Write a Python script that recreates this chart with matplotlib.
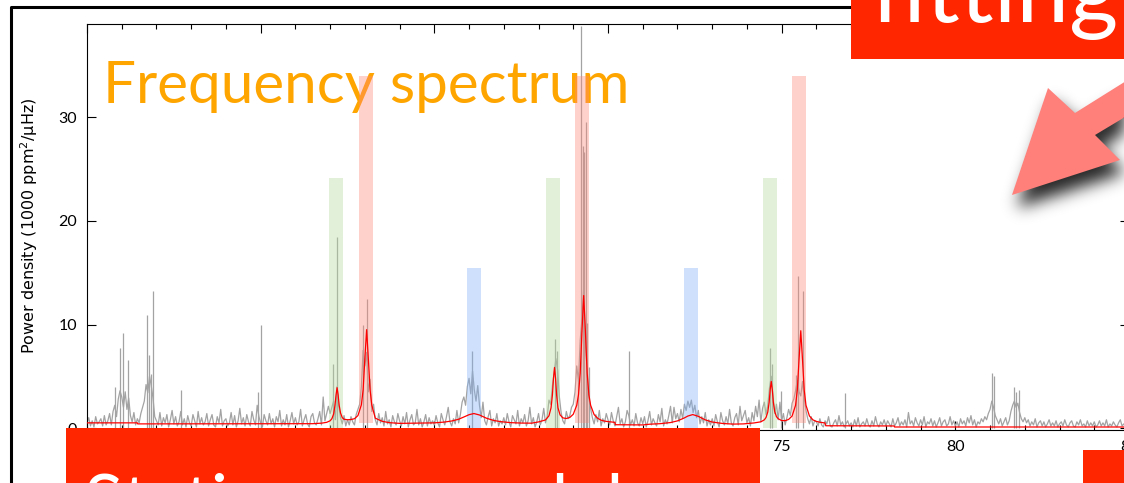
import numpy as np
import matplotlib
matplotlib.use("Agg")
import matplotlib.pyplot as plt
from matplotlib.ticker import MultipleLocator
from matplotlib.patches import Polygon, Rectangle
from matplotlib.lines import Line2D
from matplotlib.path import Path

plt.rcParams['font.family'] = ['Lato', 'DejaVu Sans']

# power spectrum, 0.05 uHz bins starting at 55 uHz (1000 ppm^2/uHz)
power = [
    0.5, 1.0, 0.2, 0.7, 0.1, 1.1, 0.4, 0.6, 0.9, 0.2, 1.2, 0.3, 0.7, 1.4, 0.3, 1.6, 2.2, 1.1, 2.8, 3.6,
    3.0, 2.0, 3.5, 1.8, 2.9, 1.2, 0.6, 1.5, 0.3, 0.9, 0.5, 1.4, 2.0, 2.6, 4.2, 3.4, 5.0, 4.1, 2.9, 1.1,
    0.7, 0.3, 1.5, 0.2, 1.0, 0.5, 1.3, 0.1, 0.8, 1.7, 0.4, 1.1, 0.2, 0.6, 1.6, 0.3, 0.9, 0.1, 1.2, 0.5,
    0.2, 1.3, 0.7, 0.1, 1.6, 0.4, 1.0, 0.3, 0.6, 1.4, 0.2, 0.8, 1.3, 0.3, 0.1, 1.1, 0.5, 1.8, 0.2, 0.7,
    0.9, 0.2, 0.5, 1.5, 0.3, 1.2, 0.1, 0.7, 1.9, 0.4, 1.0, 0.2, 1.3, 0.6, 0.2, 1.6, 0.8, 0.3, 2.2, 1.1,
    0.5, 0.1, 1.3, 0.7, 0.3, 1.4, 0.4, 0.9, 0.1, 1.1, 0.6, 1.7, 0.2, 0.8, 0.3, 1.3, 0.1, 0.7, 1.5, 0.4,
    1.0, 0.3, 0.6, 1.8, 0.2, 0.8, 1.3, 0.4, 0.1, 1.1, 1.4, 0.5, 0.3, 0.9, 1.6, 0.3, 3.0, 0.7, 1.4, 2.1,
    1.4, 2.0, 2.6, 0.8, 4.0, 2.1, 1.0, 0.4, 1.2, 0.2, 0.8, 0.3, 1.1, 0.6, 0.3, 1.3, 1.8, 2.3, 4.0, 7.5,
    6.0, 7.3, 3.5, 4.7, 1.6, 2.3, 0.8, 0.3, 1.4, 0.5, 1.0, 0.2, 1.6, 0.4, 0.8, 0.1, 1.2, 0.6, 0.3, 1.4,
    0.7, 0.2, 1.1, 0.4, 1.5, 0.1, 0.8, 1.3, 0.3, 0.5, 1.8, 0.3, 0.9, 0.1, 0.6, 1.3, 0.2, 1.0, 0.4, 0.7,
    0.3, 1.2, 0.5, 0.1, 1.4, 0.8, 0.3, 1.1, 2.0, 0.6, 0.2, 0.9, 0.4, 1.7, 0.5, 1.3, 2.5, 3.0, 2.2, 4.0,
    4.8, 3.3, 5.5, 3.7, 2.6, 4.1, 2.2, 1.0, 2.5, 0.7, 0.3, 1.1, 1.7, 0.2, 0.9, 0.5, 1.4, 0.2, 0.7, 0.4,
    1.0, 0.3, 1.4, 0.6, 0.1, 1.2, 0.8, 0.4, 1.7, 0.2, 0.9, 0.5, 1.3, 0.2, 0.7, 2.0, 0.4, 1.0, 0.1, 0.6,
    1.4, 0.3, 0.8, 1.9, 0.5, 1.1, 2.7, 2.3, 4.1, 5.3, 6.7, 5.6, 3.0, 1.5, 0.7, 0.4, 1.6, 0.9, 1.2, 2.0,
    2.3, 3.5, 6.0, 4.5, 8.5, 10.5, 13.5, 8.0, 5.7, 2.9, 1.9, 1.0, 0.4, 1.3, 0.6, 1.7, 0.2, 0.9, 0.5, 1.4,
    0.8, 0.3, 1.5, 0.7, 0.2, 1.1, 2.0, 0.4, 0.9, 0.1, 0.6, 1.7, 1.2, 0.3, 0.8, 0.2, 1.4, 0.5, 0.2, 1.0,
    0.4, 1.1, 0.1, 0.7, 1.6, 0.3, 0.9, 0.5, 0.2, 1.3, 0.6, 1.9, 0.2, 0.8, 0.4, 1.2, 2.1, 0.5, 2.0, 0.9,
    1.4, 0.6, 1.8, 0.9, 2.3, 1.7, 2.6, 2.0, 2.7, 1.5, 2.2, 1.0, 1.7, 0.4, 1.1, 0.5, 1.5, 0.2, 0.8, 0.3,
    0.9, 0.2, 1.3, 0.6, 0.1, 1.5, 0.7, 0.3, 1.1, 0.4, 1.8, 0.5, 0.2, 1.0, 1.4, 0.3, 2.1, 0.7, 1.2, 1.7,
    0.5, 1.0, 0.2, 1.5, 0.7, 2.1, 1.1, 2.7, 0.6, 1.9, 2.5, 1.3, 2.2, 3.9, 5.0, 3.1, 1.4, 2.3, 0.8, 2.5,
    0.7, 1.4, 0.3, 1.0, 1.8, 1.2, 2.4, 2.8, 3.6, 4.6, 3.5, 3.1, 4.5, 2.9, 1.7, 0.9, 0.4, 1.1, 0.2, 0.7,
    0.6, 0.2, 0.9, 0.3, 0.1, 0.7, 0.4, 1.1, 0.2, 0.1, 0.5, 0.8, 0.2, 1.2, 0.3, 0.6, 0.1, 0.4, 0.7, 0.2,
    0.5, 0.1, 0.8, 0.2, 1.0, 0.1, 0.4, 0.6, 0.2, 0.9, 0.3, 0.1, 0.7, 0.2, 1.1, 0.4, 0.1, 0.6, 0.3, 0.8,
    0.2, 0.7, 0.4, 0.1, 0.9, 0.2, 0.5, 1.0, 0.2, 0.6, 0.3, 0.8, 0.1, 1.5, 0.4, 0.7, 0.2, 1.0, 0.5, 0.2,
    0.8, 0.3, 1.1, 0.1, 0.6, 0.4, 0.9, 0.2, 0.7, 0.1, 0.5, 1.0, 0.2, 0.6, 0.8, 0.2, 0.4, 1.1, 0.3, 0.7,
    0.2, 0.6, 0.1, 0.9, 0.4, 0.7, 0.2, 1.0, 0.5, 1.2, 0.3, 0.8, 0.1, 0.6, 0.4, 0.9, 0.6, 1.1, 0.8, 1.4,
    1.8, 2.6, 2.0, 1.2, 0.8, 0.4, 0.9, 0.2, 0.6, 1.0, 0.3, 0.7, 1.6, 2.2, 2.6, 2.0, 2.4, 1.5, 0.9, 0.6,
    1.0, 0.5, 0.8, 0.2, 0.6, 0.3, 0.9, 0.1, 0.5, 0.7, 0.2, 0.6, 0.1, 0.4, 0.8, 0.2, 0.5, 0.2, 0.7, 0.1,
    0.4, 0.6, 0.2, 0.8, 0.3, 0.1, 0.5, 0.7, 0.2, 0.1, 0.6, 0.3, 0.8, 0.2, 0.4, 0.1, 0.7, 0.2, 0.5, 0.2,
    0.6, 0.1, 0.3, 0.7, 0.2, 0.5, 0.2, 0.8, 0.1, 0.4, 0.2, 0.6, 0.3, 0.1, 0.5, 0.8, 0.2, 0.4, 0.1, 0.6,
    0.3,
]
freq = 55 + 0.05 * np.arange(len(power))

# narrow spikes in the spectrum
spike_freq = [55.82, 55.96, 56.04, 56.17, 56.72, 56.78, 56.83, 56.90, 57.71, 59.92,
              60.02, 62.07, 62.20, 62.95, 63.05, 66.08, 68.46, 68.53, 69.13, 69.22,
              69.28, 69.31, 69.36, 69.39, 69.46, 70.60, 74.66, 74.71, 74.97, 75.42,
              75.47, 75.61, 76.83, 81.05, 81.11, 81.68, 81.75, 81.82]
spike_power = [4.0, 7.7, 9.2, 6.6, 10.9, 7.1, 5.2, 13.2, 3.7, 3.5,
               10.0, 6.2, 18.5, 10.0, 12.5, 7.4, 8.6, 7.4, 4.6, 38.8,
               27.2, 26.7, 29.6, 10.1, 5.9, 7.4, 7.7, 6.2, 3.6, 5.1,
               14.7, 13.2, 3.4, 5.3, 5.0, 4.0, 3.5, 3.7]

# fitted model (red)
fit_freq = [55.0, 56.45, 56.46, 61.5, 61.75, 61.9, 62.0, 62.05, 62.1, 62.14, 62.17, 62.2, 62.23, 62.26,
            62.3, 62.35, 62.4, 62.5, 62.6, 62.7, 62.8, 62.9, 62.95, 63.0, 63.05, 63.1, 63.15, 63.2,
            63.3, 63.4, 63.5, 63.7, 64.0, 65.0, 65.3, 65.5, 65.7, 65.9, 66.0, 66.14, 66.3, 66.5, 66.7,
            66.9, 67.2, 67.5, 67.8, 68.0, 68.2, 68.3, 68.36, 68.4, 68.43, 68.46, 68.49, 68.52, 68.56,
            68.62, 68.7, 68.8, 68.9, 69.0, 69.1, 69.15, 69.2, 69.25, 69.3, 69.35, 69.4, 69.45, 69.5,
            69.6, 69.7, 69.8, 69.9, 70.0, 70.2, 70.21, 71.0, 71.2, 71.5, 71.8, 72.0, 72.2, 72.3, 72.44,
            72.6, 72.8, 73.0, 73.3, 73.6, 73.9, 74.2, 74.4, 74.5, 74.55, 74.6, 74.64, 74.67, 74.7,
            74.73, 74.76, 74.8, 74.85, 74.9, 75.0, 75.1, 75.2, 75.3, 75.4, 75.45, 75.5, 75.55, 75.6,
            75.65, 75.7, 75.8, 75.9, 76.0, 76.1, 76.25, 76.27, 78.24, 78.25, 85.0]
fit_power = [0.5, 0.5, 0.4, 0.42, 0.47, 0.55, 0.7, 0.9, 1.35, 2.2, 3.2, 3.9, 3.2, 2.2,
             1.45, 1.0, 0.85, 0.8, 0.82, 0.9, 1.2, 2.25, 3.7, 6.7, 9.5, 6.7, 3.7, 2.2,
             0.95, 0.8, 0.65, 0.52, 0.45, 0.5, 0.58, 0.68, 0.85, 1.14, 1.29, 1.4, 1.26, 0.95, 0.74,
             0.62, 0.52, 0.48, 0.47, 0.59, 0.78, 1.18, 1.95, 3.2, 4.8, 5.85, 4.8, 3.2, 1.95,
             1.27, 0.98, 0.92, 1.02, 1.33, 2.2, 3.2, 5.3, 9.3, 12.8, 9.3, 5.3, 3.2, 2.2,
             1.3, 0.95, 0.76, 0.67, 0.62, 0.55, 0.32, 0.3, 0.37, 0.42, 0.53, 0.69, 0.98, 1.16, 1.3,
             1.13, 0.79, 0.58, 0.44, 0.38, 0.4, 0.49, 0.6, 0.79, 1.02, 1.55, 2.5, 3.73, 4.5,
             3.73, 2.5, 1.6, 1.1, 0.9, 0.72, 0.71, 0.83, 1.16, 2.2, 3.64, 6.6, 9.4, 6.6,
             3.64, 2.2, 1.16, 0.79, 0.64, 0.56, 0.49, 0.22, 0.2, 0.1, 0.1]

# mode identification bands
band_centers = [62.18, 63.02, 66.13, 68.41, 69.25, 72.39, 74.67, 75.51]
band_degree = [2, 0, 1, 2, 0, 1, 2, 0]
degree_top = {0: 34.0, 1: 15.5, 2: 24.2}
degree_bottom = {0: 0.5, 1: 0.0, 2: 0.0}
degree_color = {0: '#ff8878', 1: '#7fb0f5', 2: '#b4d79c'}

W, H = 1124, 483
fig = plt.figure(figsize=(W / 100, H / 100), dpi=100)
fig.patch.set_facecolor('white')


def fx(px):
    return px / W


def fy(py):
    return 1 - py / H


ax = fig.add_axes([fx(87), fy(430), 1042 / W, 406 / H])
ax.plot(freq, power, color='#a3a3a3', lw=0.9, zorder=2)
ax.vlines(spike_freq, 0, spike_power, color='#a3a3a3', lw=0.9, zorder=2)

tops = np.array([degree_top[d] for d in band_degree])
bottoms = np.array([degree_bottom[d] for d in band_degree])
ax.bar(band_centers, tops - bottoms, bottom=bottoms, width=0.4,
       color=[degree_color[d] for d in band_degree], alpha=0.38, lw=0, zorder=3)

ax.plot(fit_freq, fit_power, color='#ff0000', lw=0.9, zorder=4)

ax.text(fx(103), fy(103), 'Frequency spectrum', transform=fig.transFigure,
        color='#ffa500', fontsize=42, family='Lato', zorder=1.5)

ax.set_xlim(55, 85)
ax.set_ylim(-0.19, 39.03)
ax.xaxis.set_major_locator(MultipleLocator(5))
ax.xaxis.set_minor_locator(MultipleLocator(1))
ax.yaxis.set_major_locator(MultipleLocator(10))
ax.tick_params(which='both', direction='in', top=True, right=True, width=0.8)
ax.tick_params(which='major', length=6.5, labelsize=11.5, pad=7)
ax.tick_params(which='minor', length=3.6)
for s in ax.spines.values():
    s.set_linewidth(0.8)

fig.text(fx(29), fy(226), 'Power density (1000 ppm$^2$/μHz)', rotation=90,
         ha='center', va='center', fontsize=11.5, family='DejaVu Sans')

# slide frame
fig.add_artist(Line2D([fx(10.5), fx(10.5), 1.0], [0.0, fy(6.5), fy(6.5)],
                      transform=fig.transFigure, color='black', lw=2.2, zorder=1))

# arrow with soft shadow
arrow_px = [(1012, 195), (1048, 88), (1075, 113), (1150, 66), (1150, 102), (1095, 135), (1120, 160)]
shadow_path = Path([(x + 5, y + 13) for x, y in arrow_px] + [(arrow_px[0][0] + 5, arrow_px[0][1] + 13)])
gx, gy = np.meshgrid(np.arange(W) + 0.5, np.arange(H) + 0.5)
mask = shadow_path.contains_points(np.column_stack([gx.ravel(), gy.ravel()])).reshape(H, W).astype(float)
sig = 8
k = np.exp(-0.5 * (np.arange(-3 * sig, 3 * sig + 1) / sig) ** 2)
k /= k.sum()
blur = np.apply_along_axis(lambda r: np.convolve(r, k, mode='same'), 1, mask)
blur = np.apply_along_axis(lambda c: np.convolve(c, k, mode='same'), 0, blur)
shadow = np.zeros((H, W, 4))
shadow[..., 3] = 0.85 * blur
im = fig.figimage(shadow, xo=0, yo=0, origin='upper')
im.set_zorder(5)

fig.add_artist(Polygon([(fx(x), fy(y)) for x, y in arrow_px], closed=True,
                       transform=fig.transFigure, fc='#ff7f7a', ec='none', zorder=6))

# red title boxes
box_red = '#ff2600'
fig.add_artist(Rectangle((fx(851), fy(59)), (W - 851) / W, 59 / H, transform=fig.transFigure,
                         fc=box_red, ec='none', zorder=7))
fig.add_artist(Rectangle((fx(66), 0), (760 - 66) / W, (H - 428) / H, transform=fig.transFigure,
                         fc=box_red, ec='none', zorder=7))
fig.add_artist(Rectangle((fx(1083), 0), (W - 1083) / W, (H - 450) / H, transform=fig.transFigure,
                         fc=box_red, ec='none', zorder=7))
fig.text(fx(871), fy(22), 'fitting', color='white', fontsize=68, family='Lato',
         ha='left', va='baseline', zorder=8)
fig.text(fx(84), fy(526), 'Stationary model', color='white', fontsize=52, family='Lato',
         ha='left', va='baseline', zorder=8)

fig.savefig('out.png', dpi=100)
